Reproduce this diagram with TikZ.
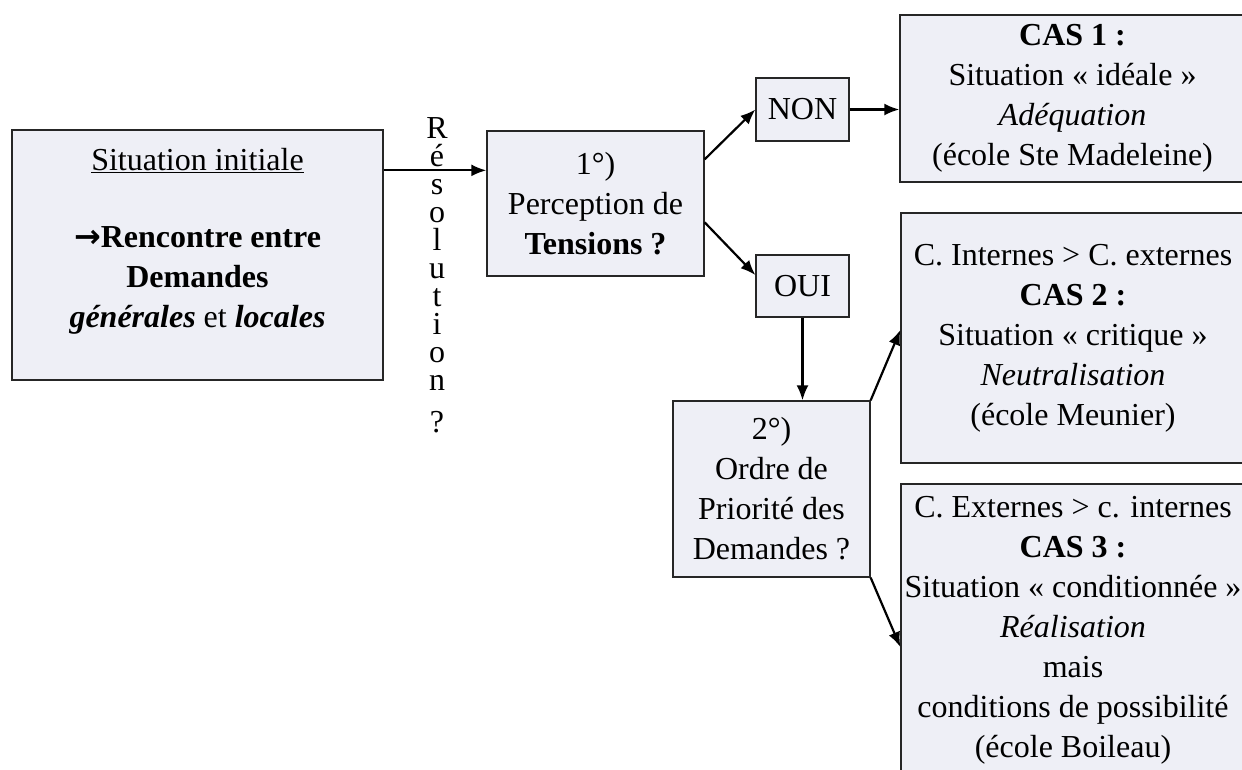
\documentclass[tikz,border=0pt]{standalone}
\usepackage{fontspec}
\setmainfont{Liberation Serif}
\newfontfamily\arrowfont{DejaVu Sans}
\usetikzlibrary{arrows.meta}
\definecolor{boxfill}{RGB}{238,239,246}
\tikzset{
  box/.style   = { draw=black!85, line width=1.3pt, fill=boxfill, inner sep=0pt, align=center },
  link/.style  = { line width=2.2pt, -{Latex[length=15pt,width=12pt]} },
  letters/.style = { inner sep=0pt, align=center, font=\fontsize{32}{28}\selectfont }
}

\begin{document}
\begin{tikzpicture}[x=1pt, y=-1pt, font=\fontsize{32}{40}\selectfont]
    \useasboundingbox (0,0) rectangle (1242,769);

    \node[box, minimum width=371pt, minimum height=250pt] (sit) at (197.5,255) {};
    \node[anchor=north, inner sep=0pt, align=center] (sit-text) at (197.5,148)
      {\underline{Situation initiale}\\[37pt]
       {\arrowfont\bfseries →}\textbf{Rencontre entre}\\ \textbf{Demandes}\\
       \textbf{\textit{générales}} et \textbf{\textit{locales}}};

    \node[letters, anchor=north] (res) at (437,117)
      {R\\é\\s\\o\\l\\u\\t\\i\\o\\n\\[14pt]?};

    \node[box, minimum width=217pt, minimum height=145pt] (tens) at (595.5,203.5)
      {1°)\\Perception de\\\textbf{Tensions ?}};

    \node[box, minimum width=93pt, minimum height=63pt] (non) at (802.5,109.5) {NON};
    \node[box, minimum width=93pt, minimum height=62pt] (oui) at (802.5,286)  {OUI};

    \node[box, minimum width=197pt, minimum height=176pt] (ordre) at (771.5,489)
      {2°)\\Ordre de\\Priorité des\\Demandes ?};

    \node[box, minimum width=345pt, minimum height=167pt] (cas1) at (1072.5,98.5)
      {\textbf{CAS 1 :}\\Situation « idéale »\\\textit{Adéquation}\\(école Ste Madeleine)};
    \node[box, minimum width=344pt, minimum height=250pt] (cas2) at (1073,338)
      {C. Internes > C. externes\\\textbf{CAS 2 :}\\Situation « critique »\\
       \textit{Neutralisation}\\(école Meunier)};
    \node[box, minimum width=344pt, minimum height=292pt] (cas3) at (1073,630)
      {C. Externes > c. internes\\\textbf{CAS 3 :}\\Situation « conditionnée »\\
       \textit{Réalisation}\\mais\\conditions de possibilité\\(école Boileau)};

    \draw[link] ([yshift=-41pt]sit.north east) -- ([yshift=-41pt]sit.north east -| tens.west);
    \draw[link] ([yshift=-29pt]tens.north east) -- (non.west);
    \draw[link] ([yshift=-92pt]tens.north east) -- ([yshift=11pt]oui.west);
    \draw[link] (non.east) -- (non.east -| cas1.west);
    \draw[link] (oui.south) -- (oui.south |- ordre.north);
    \draw[link] (ordre.north east) -- ([yshift=8pt]cas2.west);
    \draw[link] (ordre.south east) -- ([yshift=-17pt]cas3.west);
\end{tikzpicture}
\end{document}
